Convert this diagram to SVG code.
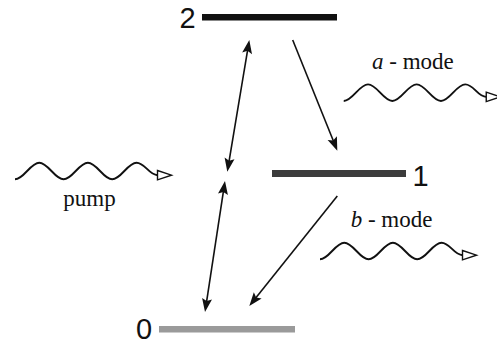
<svg xmlns="http://www.w3.org/2000/svg" xmlns:xlink="http://www.w3.org/1999/xlink" width="497" height="345" viewBox="0 0 497 345">
<style>
.num{font-family:"Liberation Sans",Arial,sans-serif;font-size:29px;fill:#111;text-anchor:middle}
.lbl{font-family:"Liberation Serif","Times New Roman",serif;font-size:23px;fill:#111}
.wave{fill:none;stroke:#111;stroke-width:1.9}
.whead{fill:#fff;stroke:#111;stroke-width:1.4;stroke-linejoin:miter}
.conn{fill:none;stroke:#111;stroke-width:1.6}
</style>
<defs>
<marker id="ah" markerUnits="userSpaceOnUse" viewBox="-6 -6 15 12" markerWidth="15" markerHeight="12" refX="0" refY="0" orient="auto-start-reverse">
<path d="M8,0 L-5.5,-5 L-3,0 L-5.5,5 Z" fill="#111"/>
</marker>
<g id="wave">
<path class="wave" d="M0,0 c8.85,0 15.45,-16.6 24.3,-16.6 c8.85,0 15.45,16.6 24.3,16.6 c8.85,0 15.45,-16.6 24.3,-16.6 c8.85,0 15.45,16.6 24.3,16.6 c8.85,0 15.45,-16.6 24.3,-16.6 c8.5,0 12.5,12.5 21,12.5"/>
<path class="whead" d="M142.5,-8.8 L156.5,-4.1 L142.5,0.6 Z"/>
</g>
</defs>

<g id="level2">
<rect x="202" y="14" width="135" height="6.5" fill="#111"/>
<text class="num" x="187.5" y="28">2</text>
</g>
<g id="level1">
<rect x="272" y="170" width="134" height="7" fill="#3c3c3c"/>
<text class="num" x="420.5" y="185.5">1</text>
</g>
<g id="level0">
<rect x="159" y="326" width="136" height="6.5" fill="#9a9a9a"/>
<text class="num" x="144" y="338.5">0</text>
</g>

<g id="pump">
<use xlink:href="#wave" href="#wave" transform="translate(15,179.3)"/>
<text class="lbl" x="89.5" y="205.5" text-anchor="middle">pump</text>
</g>
<g id="a-mode">
<use xlink:href="#wave" href="#wave" transform="translate(343.75,101)"/>
<text class="lbl" x="372" y="68.5"><tspan font-style="italic">a</tspan> - mode</text>
</g>
<g id="b-mode">
<use xlink:href="#wave" href="#wave" transform="translate(320,259.3)"/>
<text class="lbl" x="350.7" y="227.3"><tspan font-style="italic">b</tspan> - mode</text>
</g>

<g id="connectors">
<line class="conn" x1="247.98" y1="47.89" x2="228.62" y2="163.81" marker-start="url(#ah)" marker-end="url(#ah)"/>
<line class="conn" x1="223.79" y1="188.91" x2="206.21" y2="304.09" marker-start="url(#ah)" marker-end="url(#ah)"/>
<line class="conn" x1="292.7" y1="40" x2="334.31" y2="143.28" marker-end="url(#ah)"/>
<line class="conn" x1="337.3" y1="196" x2="254.3" y2="299.75" marker-end="url(#ah)"/>
</g>
</svg>
